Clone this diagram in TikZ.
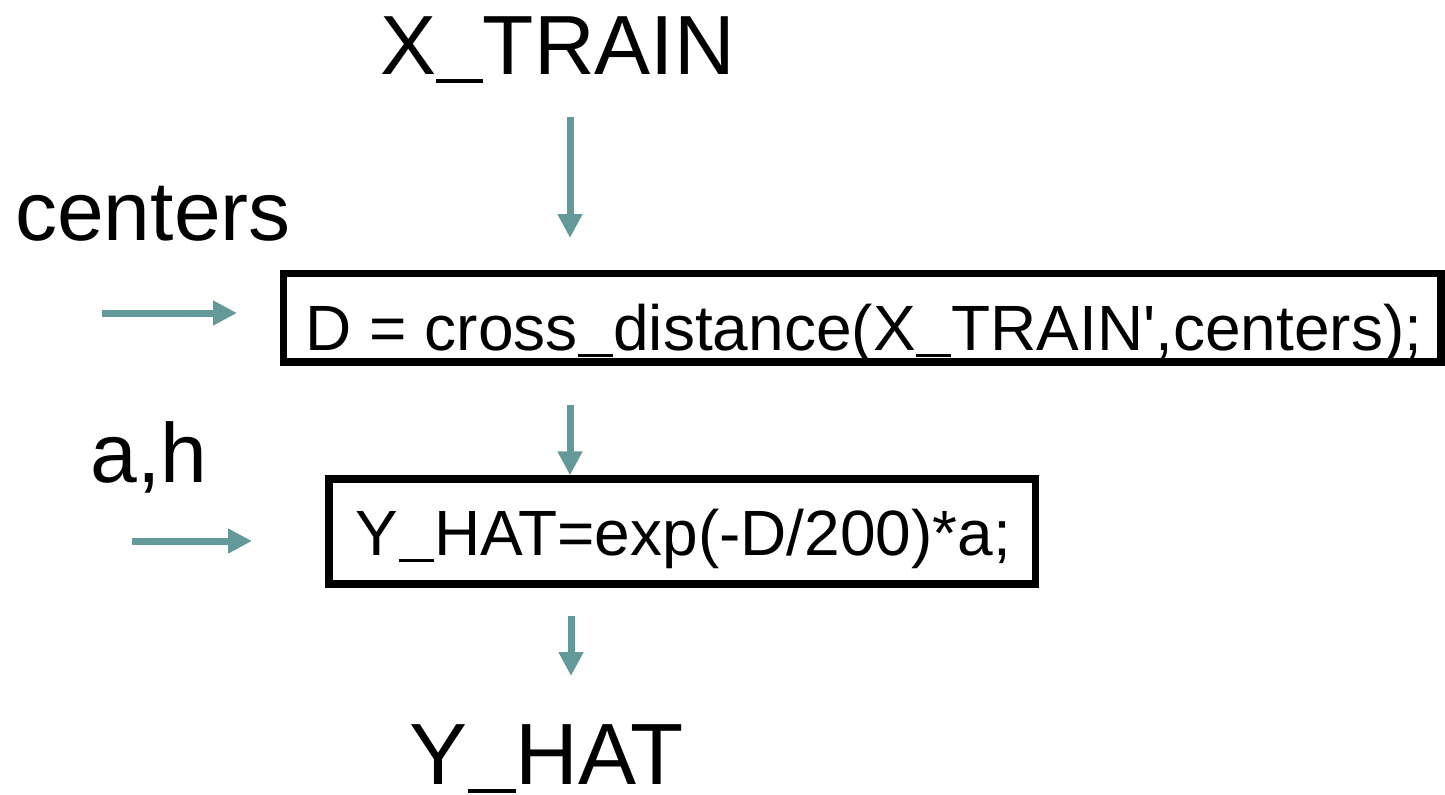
\documentclass[tikz,border=0pt]{standalone}
\usepackage{fontspec}
\setmainfont{Liberation Sans}
\usetikzlibrary{arrows.meta}
\definecolor{flow}{RGB}{99,153,153}
% thin underscore set close to the baseline
\newcommand{\us}{\rule[-0.107em]{0.556em}{0.047em}}

\begin{document}
\begin{tikzpicture}[x=0.5pt,y=-0.5pt,
  flowarrow/.style={draw=flow, line width=3.5pt,
    -{Triangle[length=12pt,width=11.75pt]}},
  biglabel/.style={font=\fontsize{42}{50}\selectfont, inner sep=0pt, anchor=base},
  codetext/.style={font=\fontsize{32}{38}\selectfont, inner sep=0pt, anchor=base},
  codebox/.style={draw=black, line width=3.6pt, inner sep=0pt}]
\useasboundingbox (0,0) rectangle (1445,794);

% inputs and output
\node[biglabel] (xtrain)  at (557.5,74)  {X\us TRAIN};
\node[biglabel] (centers) at (153,240)   {centers};
\node[biglabel] (ah)      at (149,482)   {a,h};
\node[biglabel, font=\fontsize{43.5}{50}\selectfont] (yhat) at (546.5,784) {Y\us HAT};

% processing steps
\node[codebox, minimum width=578.75pt, minimum height=44.25pt] (dist) at (862.25,317.75) {};
\node[codetext] (disttext) at (864,350)
  {D = cross\us distance(X\us TRAIN\textquotesingle,centers);};

\node[codebox, minimum width=353.25pt, minimum height=52.5pt] (pred) at (682.25,531.5) {};
\node[codetext] (predtext) at (683.5,555) {Y\us HAT=exp(-D/200)*a;};

% arrow end points
\coordinate (xin)  at (570,117);  \coordinate (xout)  at (570,238);
\coordinate (cin)  at (102,313);  \coordinate (cout)  at (237,313);
\coordinate (din)  at (570,405);
\coordinate (hin)  at (132,541);  \coordinate (hout)  at (252,541);
\coordinate (yin)  at (571,616);  \coordinate (yout)  at (571,676);

\draw[flowarrow] (xin) -- (xout);
\draw[flowarrow] (cin) -- (cout);
\draw[flowarrow] (din) -- (pred.north -| din);
\draw[flowarrow] (hin) -- (hout);
\draw[flowarrow] (yin) -- (yout);
\end{tikzpicture}
\end{document}
